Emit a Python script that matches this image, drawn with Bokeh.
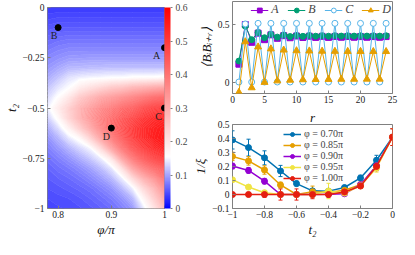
import numpy as np
from bokeh.plotting import figure
from bokeh.layouts import row, column
from bokeh.models import (LinearColorMapper, ColorBar, FixedTicker, Legend, LegendItem,
                          Whisker, ColumnDataSource, Range1d, TeeHead, CustomJSTickFormatter)
from bokeh.core.properties import value
from bokeh.embed import file_html
from bokeh.resources import INLINE

# ---------------------------------------------------------------- data
# heat map (phi/pi columns, t2 rows from 0 down to -1)
heat_phi = [0.78, 0.80, 0.82, 0.84, 0.86, 0.88, 0.90, 0.92, 0.94, 0.96, 0.98, 1.00]
heat_t2 = [0.0, -0.05, -0.10, -0.15, -0.20, -0.25, -0.30, -0.35, -0.40, -0.45, -0.50,
           -0.55, -0.60, -0.65, -0.70, -0.75, -0.80, -0.85, -0.90, -0.95, -1.00]
heat_values = [
    [0.035, 0.035, 0.035, 0.035, 0.035, 0.035, 0.035, 0.035, 0.035, 0.035, 0.035, 0.035],
    [0.043, 0.045, 0.045, 0.045, 0.045, 0.045, 0.045, 0.045, 0.045, 0.045, 0.045, 0.045],
    [0.052, 0.055, 0.055, 0.055, 0.055, 0.055, 0.055, 0.055, 0.055, 0.055, 0.055, 0.055],
    [0.062, 0.066, 0.068, 0.068, 0.068, 0.068, 0.068, 0.068, 0.068, 0.068, 0.068, 0.068],
    [0.072, 0.077, 0.080, 0.080, 0.080, 0.080, 0.080, 0.080, 0.080, 0.080, 0.080, 0.080],
    [0.082, 0.088, 0.093, 0.094, 0.095, 0.095, 0.095, 0.095, 0.095, 0.095, 0.095, 0.095],
    [0.092, 0.102, 0.112, 0.113, 0.115, 0.116, 0.117, 0.117, 0.117, 0.117, 0.117, 0.117],
    [0.105, 0.120, 0.138, 0.146, 0.150, 0.152, 0.155, 0.155, 0.160, 0.160, 0.160, 0.165],
    [0.120, 0.140, 0.155, 0.190, 0.210, 0.230, 0.250, 0.260, 0.280, 0.290, 0.300, 0.310],
    [0.133, 0.160, 0.200, 0.250, 0.280, 0.310, 0.330, 0.350, 0.370, 0.390, 0.410, 0.420],
    [0.145, 0.190, 0.235, 0.285, 0.320, 0.355, 0.380, 0.410, 0.430, 0.460, 0.480, 0.490],
    [0.125, 0.165, 0.230, 0.285, 0.330, 0.370, 0.405, 0.440, 0.470, 0.500, 0.520, 0.535],
    [0.105, 0.135, 0.180, 0.240, 0.300, 0.360, 0.410, 0.450, 0.490, 0.520, 0.540, 0.555],
    [0.090, 0.110, 0.140, 0.165, 0.230, 0.310, 0.380, 0.435, 0.485, 0.520, 0.545, 0.560],
    [0.078, 0.092, 0.110, 0.130, 0.150, 0.220, 0.310, 0.390, 0.450, 0.490, 0.520, 0.540],
    [0.068, 0.078, 0.090, 0.105, 0.122, 0.145, 0.200, 0.310, 0.390, 0.440, 0.475, 0.500],
    [0.060, 0.068, 0.075, 0.085, 0.098, 0.115, 0.140, 0.210, 0.310, 0.370, 0.410, 0.440],
    [0.055, 0.060, 0.065, 0.072, 0.082, 0.095, 0.112, 0.145, 0.220, 0.290, 0.340, 0.400],
    [0.050, 0.053, 0.057, 0.062, 0.068, 0.078, 0.090, 0.112, 0.145, 0.220, 0.280, 0.350],
    [0.045, 0.048, 0.050, 0.054, 0.060, 0.067, 0.076, 0.090, 0.112, 0.170, 0.240, 0.310],
    [0.042, 0.044, 0.046, 0.049, 0.053, 0.059, 0.066, 0.077, 0.092, 0.140, 0.200, 0.270],
]
point_names = ["A", "B", "C", "D"]
point_phi = [1.0, 0.8, 1.0, 0.9]
point_t2 = [-0.2, -0.1, -0.5, -0.6]
phi_ticks = [0.8, 0.9, 1.0]
t2_ticks = [0.0, -0.25, -0.5, -0.75, -1.0]
cbar_ticks = [0.0, 0.1, 0.2, 0.3, 0.4, 0.5, 0.6]

# correlation vs r
r_vals = list(range(1, 25))
corr_A = [0.155, 0.50, 0.345, 0.425, 0.368, 0.41, 0.38, 0.403, 0.385, 0.40, 0.387, 0.398,
          0.388, 0.397, 0.388, 0.396, 0.389, 0.396, 0.389, 0.395, 0.389, 0.395, 0.389, 0.395]
corr_B = [0.182, 0.485, 0.368, 0.43, 0.385, 0.415, 0.39, 0.408, 0.395, 0.405, 0.397, 0.404,
          0.398, 0.403, 0.398, 0.403, 0.399, 0.402, 0.399, 0.402, 0.399, 0.402, 0.399, 0.402]
corr_C = [0.0, 0.505, 0.0, 0.51, 0.0, 0.51, 0.0, 0.51, 0.0, 0.51, 0.0, 0.51,
          0.0, 0.51, 0.0, 0.51, 0.0, 0.51, 0.0, 0.51, 0.0, 0.51, 0.0, 0.51]
corr_D = [-0.09, 0.35, -0.05, 0.305, -0.003, 0.288, 0.01, 0.278, 0.016, 0.272, 0.02, 0.27,
          0.022, 0.268, 0.023, 0.267, 0.024, 0.266, 0.024, 0.266, 0.025, 0.265, 0.025, 0.265]
r_ticks = [0, 5, 10, 15, 20, 25]
corr_ticks = [0.0, 0.5]

# 1/xi vs t2
t2_vals = [-1.0, -0.9, -0.8, -0.7, -0.6, -0.5, -0.4, -0.3, -0.2, -0.1, 0.0]
phi_labels = ["φ = 0.70π", "φ = 0.85π", "φ = 0.90π", "φ = 0.95π", "φ = 1.00π"]
inv_xi_070 = [0.39, 0.335, 0.262, 0.168, 0.078, 0.026, 0.024, 0.05, 0.118, 0.245, 0.41]
inv_xi_085 = [0.272, 0.24, 0.175, 0.068, 0.0, 0.02, 0.015, 0.03, 0.07, 0.205, 0.41]
inv_xi_090 = [0.203, 0.172, 0.095, 0.0, 0.0, 0.0, 0.002, 0.005, 0.07, 0.205, 0.41]
inv_xi_095 = [0.105, 0.053, 0.013, 0.0, 0.0, 0.0, 0.025, 0.01, 0.062, 0.19, 0.41]
inv_xi_100 = [0.0, 0.0, 0.0, 0.0, 0.0, 0.0, 0.0, 0.018, 0.06, 0.20, 0.41]
err_070 = [0.065, 0.06, 0.05, 0.04, 0.018, 0.008, 0.008, 0.01, 0.02, 0.035, 0.06]
err_085 = [0.03, 0.03, 0.03, 0.02, 0.01, 0.04, 0.02, 0.01, 0.015, 0.03, 0.06]
err_090 = [0.02, 0.02, 0.02, 0.01, 0.005, 0.005, 0.005, 0.005, 0.015, 0.03, 0.06]
err_095 = [0.01, 0.01, 0.01, 0.01, 0.01, 0.01, 0.055, 0.01, 0.015, 0.03, 0.06]
err_100 = [0.01, 0.015, 0.02, 0.04, 0.04, 0.03, 0.02, 0.015, 0.01, 0.03, 0.06]
t2_axis_ticks = [-1.0, -0.8, -0.6, -0.4, -0.2, 0.0]
inv_xi_ticks = [-0.1, 0.0, 0.1, 0.2, 0.3, 0.4, 0.5]

# ---------------------------------------------------------------- style
SERIF = "Liberation Serif"
FRAME = "#808080"
TICK_FS = "9.5px"
LABEL_FS = "13px"
minus_fmt = CustomJSTickFormatter(
    code="return (tick < 0 ? '\\u2212' : '') + Math.abs(tick).toString();")


def palette_bwr(n=256, lo=0.0, mid=0.155, hi=0.6, centers=True):
    cols = []
    for i in range(n):
        v = lo + (hi - lo) * ((i + 0.5) / n if centers else i / (n - 1))
        if v <= mid:
            f = (v - lo) / (mid - lo)
            c = int(round(255 * f))
            cols.append("#%02x%02x%02x" % (c, c, 255))
        else:
            f = (v - mid) / (hi - mid)
            c = int(round(255 * (1 - f)))
            cols.append("#%02x%02x%02x" % (255, c, c))
    return cols


def style(p, xticks, yticks):
    p.outline_line_color = FRAME
    p.outline_line_width = 1
    p.grid.visible = False
    p.xaxis.ticker = FixedTicker(ticks=xticks)
    p.yaxis.ticker = FixedTicker(ticks=yticks)
    for ax in p.axis:
        ax.formatter = minus_fmt
        ax.axis_line_color = None
        ax.major_tick_in = 3
        ax.major_tick_out = 0
        ax.major_tick_line_color = FRAME
        ax.minor_tick_line_color = None
        ax.major_label_text_font = SERIF
        ax.major_label_text_font_size = TICK_FS
        ax.major_label_text_color = "#222222"
        ax.major_label_standoff = 3
        ax.axis_label_text_font = SERIF
        ax.axis_label_text_font_size = LABEL_FS
        ax.axis_label_text_font_style = "italic"
        ax.axis_label_text_color = "#111111"
        ax.axis_label_standoff = 1


# ---------------------------------------------------------------- left: heat map
mapper = LinearColorMapper(palette=palette_bwr(), low=cbar_ticks[0], high=cbar_ticks[-1])
p1 = figure(width=190, height=239, x_range=Range1d(0.78, 1.0),
            y_range=Range1d(-1.0, 0.0), output_backend="svg", toolbar_location=None,
            min_border_left=35, min_border_right=0, min_border_top=7, min_border_bottom=29)
n_bands = 120
levels = list(np.linspace(cbar_ticks[0], cbar_ticks[-1], n_bands + 1))
p1.contour(heat_phi, heat_t2[::-1], np.array(heat_values[::-1]), levels=levels,
           fill_color=palette_bwr(n_bands),
           line_color=palette_bwr(n_bands + 1, centers=False), line_width=0.8)
p1.scatter(point_phi, point_t2, size=6, color="black")
pts = ColumnDataSource(dict(x=point_phi, y=point_t2, t=point_names, dx=[-8, -4, -6, -5]))
p1.text(x="x", y="y", text="t", x_offset="dx", y_offset=8, source=pts,
        text_font=value(SERIF), text_font_size="10px", text_align="center",
        text_baseline="middle", text_color="#222222")
style(p1, phi_ticks, t2_ticks)
p1.xaxis.axis_label = "φ/π"
p1.yaxis.axis_label = "t₂"
p1.xaxis.major_label_standoff = 2
cb = ColorBar(color_mapper=mapper, width=6, padding=0, margin=2,
              ticker=FixedTicker(ticks=cbar_ticks), formatter=minus_fmt,
              major_label_text_font=SERIF, major_label_text_font_size=TICK_FS,
              label_standoff=3, major_tick_in=0, major_tick_out=2,
              major_tick_line_color=FRAME, bar_line_color=None, border_line_color=None,
              background_fill_alpha=0)
p1.add_layout(cb, "right")

# ---------------------------------------------------------------- top right: correlations
p2 = figure(width=209, height=107, x_range=Range1d(0, 25),
            y_range=Range1d(-0.1, 0.7), output_backend="svg", toolbar_location=None,
            min_border_left=30, min_border_right=7, min_border_top=1, min_border_bottom=14)
style(p2, r_ticks, corr_ticks)
p2.yaxis.axis_label = "⟨BᵢBᵢ₊ᵣ⟩"
p2.xaxis.major_label_standoff = 2
series2 = [
    ("A", corr_A, "#9400d3", "square", "#9400d3"),
    ("B", corr_B, "#009e73", "circle", "#009e73"),
    ("C", corr_C, "#56b4e9", "circle", "white"),
    ("D", corr_D, "#e69f00", "triangle", "#e69f00"),
]
items2 = []
for name, ys, col, mk, fill in series2:
    ln = p2.line(r_vals, ys, line_color=col, line_width=1)
    sc = p2.scatter(r_vals, ys, marker=mk, size=6 if mk != "triangle" else 7,
                    line_color=col, fill_color=fill, line_width=1)
    items2.append(LegendItem(label=name, renderers=[ln, sc]))
leg2 = Legend(items=items2, orientation="horizontal", location="top_right",
              background_fill_alpha=0, border_line_alpha=0, padding=0, margin=1,
              spacing=8, glyph_width=18, glyph_height=12, label_height=12, label_width=8,
              label_standoff=3, label_text_font=SERIF, label_text_font_size="12px",
              label_text_font_style="italic", label_text_line_height=1.0)
p2.add_layout(leg2, "center")

# ---------------------------------------------------------------- bottom right: 1/xi
p3 = figure(width=209, height=132, x_range=Range1d(-1.0, 0.0),
            y_range=Range1d(-0.1, 0.5), output_backend="svg", toolbar_location=None,
            min_border_left=33, min_border_right=7, min_border_top=13, min_border_bottom=29,
            title="r")
p3.title.align = "center"
p3.title.text_font = SERIF
p3.title.text_font_size = LABEL_FS
p3.title.text_font_style = "italic"
p3.title.text_color = "#111111"
p3.title.standoff = 0
p3.title.offset = 0
style(p3, t2_axis_ticks, inv_xi_ticks)
p3.xaxis.axis_label = "t₂"
p3.yaxis.axis_label = "1/ξ"
p3.xaxis.major_label_standoff = 2
series3 = [
    (phi_labels[0], inv_xi_070, err_070, "#0072b2"),
    (phi_labels[1], inv_xi_085, err_085, "#e69f00"),
    (phi_labels[2], inv_xi_090, err_090, "#9400d3"),
    (phi_labels[3], inv_xi_095, err_095, "#f0e442"),
    (phi_labels[4], inv_xi_100, err_100, "#e51e10"),
]
items3 = []
for name, ys, es, col in series3:
    src = ColumnDataSource(dict(x=t2_vals, y=ys,
                                lo=[a - b for a, b in zip(ys, es)],
                                hi=[a + b for a, b in zip(ys, es)]))
    wk = Whisker(base="x", upper="hi", lower="lo", source=src, line_color=col, line_width=1,
                 upper_head=TeeHead(size=4, line_color=col, line_width=1),
                 lower_head=TeeHead(size=4, line_color=col, line_width=1))
    p3.add_layout(wk)
    ln = p3.line("x", "y", source=src, line_color=col, line_width=1.5)
    sc = p3.scatter("x", "y", source=src, size=6, color=col)
    items3.append(LegendItem(label=name, renderers=[ln, sc]))
leg3 = Legend(items=items3, location="top_left", background_fill_alpha=0,
              border_line_alpha=0, padding=0, margin=2, spacing=0, glyph_width=18,
              glyph_height=10, label_height=10, label_standoff=3, label_text_font=SERIF,
              label_text_font_size="10px", label_text_line_height=1.0)
leg3.location = (51, 25)
p3.add_layout(leg3, "center")

layout = row(p1, column(p2, p3))
open("out.html", "w").write(file_html(layout, INLINE))
